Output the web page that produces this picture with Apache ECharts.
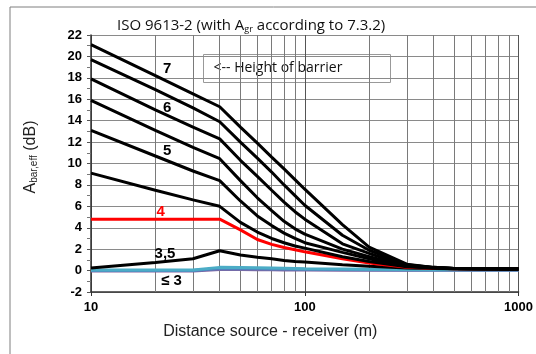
<!DOCTYPE html>
<html>
<head>
<meta charset="utf-8">
<script src="https://cdn.jsdelivr.net/npm/echarts@6/dist/echarts.min.js"></script>
<style>
  html, body { margin: 0; padding: 0; background: #fff; }
  #chart { width: 536px; height: 354px; }
</style>
</head>
<body>
<div id="chart"></div>
<script>
// distance source - receiver (m)
var distances = [10, 20, 30, 40, 50, 60, 70, 80, 90, 100, 150, 200, 300, 400, 500, 1000];

// A_bar,eff (dB) per barrier height
var h7  = [21.1, 18.2, 16.5, 15.3, 13.4, 11.9, 10.6, 9.5, 8.5, 7.6, 4.3, 2.2, 0.6, 0.3, 0.2, 0.15];
var h65 = [19.7, 16.9, 15.2, 13.9, 12.0, 10.5, 9.2, 8.0, 7.0, 6.1, 3.3, 1.9, 0.55, 0.3, 0.2, 0.15];
var h6  = [17.9, 15.0, 13.4, 12.3, 10.3, 8.8, 7.5, 6.4, 5.5, 4.8, 2.5, 1.6, 0.5, 0.28, 0.2, 0.15];
var h55 = [15.9, 13.1, 11.5, 10.45, 8.4, 6.8, 5.6, 4.6, 3.9, 3.4, 2.0, 1.3, 0.45, 0.26, 0.2, 0.15];
var h5  = [13.1, 10.7, 9.3, 8.4, 6.5, 5.1, 4.2, 3.5, 3.0, 2.6, 1.7, 1.1, 0.4, 0.25, 0.2, 0.15];
var h45 = [9.1, 7.5, 6.6, 6.0, 4.5, 3.6, 3.0, 2.6, 2.3, 2.1, 1.3, 0.85, 0.35, 0.23, 0.18, 0.15];
var h4  = [4.8, 4.8, 4.8, 4.8, 3.8, 2.9, 2.45, 2.15, 1.95, 1.75, 1.1, 0.7, 0.3, 0.22, 0.18, 0.15];
var h35 = [0.25, 0.75, 1.1, 1.85, 1.45, 1.25, 1.1, 0.95, 0.85, 0.8, 0.55, 0.4, 0.25, 0.2, 0.17, 0.15];
var h3  = [0.05, 0.05, 0.05, 0.3, 0.28, 0.26, 0.24, 0.22, 0.2, 0.18, 0.15, 0.12, 0.1, 0.08, 0.08, 0.07];
var h25 = [0.0, 0.0, 0.0, 0.2, 0.18, 0.16, 0.15, 0.14, 0.13, 0.12, 0.1, 0.08, 0.06, 0.05, 0.05, 0.05];
var h2  = [-0.05, -0.05, -0.05, 0.1, 0.09, 0.08, 0.07, 0.06, 0.06, 0.05, 0.04, 0.03, 0.02, 0.02, 0.02, 0.02];

// curve labels
var labelText = ['7', '6', '5', '4', '3,5', '≤ 3'];
var labelX    = [22.7, 22.7, 22.7, 21.2, 22.2, 23.8];
var labelY    = [18.8, 15.2, 11.2, 5.5, 1.6, -1.0];
var labelColor = ['#000', '#000', '#000', '#ff0000', '#000', '#000'];

// minor vertical grid lines of the log axis
var minorGridX = [20, 30, 40, 50, 60, 70, 80, 90, 200, 300, 400, 500, 600, 700, 800, 900];

var chart = echarts.init(document.getElementById('chart'));

function pairs(ys) {
    return distances.map(function (d, i) { return [d, ys[i]]; });
}

function curve(name, ys, color, width) {
    return {
        name: name,
        type: 'line',
        data: pairs(ys),
        symbol: 'none',
        lineStyle: { color: color, width: width },
        z: 3
    };
}

var series = [
    curve('2', h2, '#8064a2', 3),
    curve('2,5', h25, '#4f81bd', 3),
    curve('3', h3, '#4bacc6', 3),
    curve('3,5', h35, '#000', 3),
    curve('4', h4, '#ff0000', 3),
    curve('4,5', h45, '#000', 3),
    curve('5', h5, '#000', 3),
    curve('5,5', h55, '#000', 3),
    curve('6', h6, '#000', 3),
    curve('6,5', h65, '#000', 3),
    curve('7', h7, '#000', 3),
    {
        type: 'scatter',
        symbolSize: 0,
        silent: true,
        z: 5,
        itemStyle: { color: '#000', opacity: 1 },
        data: labelText.map(function (t, i) {
            return {
                value: [labelX[i], labelY[i]],
                label: {
                    show: true,
                    position: 'inside',
                    formatter: t,
                    color: labelColor[i],
                    textBorderWidth: 0,
                    fontFamily: 'Liberation Sans',
                    fontWeight: 'bold',
                    fontSize: 15
                }
            };
        }),
        markLine: {
            silent: true,
            symbol: 'none',
            label: { show: false },
            lineStyle: { color: '#7a7a7a', width: 1, type: 'solid' },
            z: 1,
            data: minorGridX.map(function (v) { return { xAxis: v }; })
        }
    }
];

var option = {
    animation: false,
    backgroundColor: '#fff',
    title: {
        text: 'ISO 9613-2 (with A{sub|gr} according to 7.3.2)',
        left: 112,
        top: 13,
        textStyle: {
            fontFamily: 'Open Sans',
            fontSize: 15,
            fontWeight: 'normal',
            color: '#111',
            rich: {
                sub: { fontSize: 9, padding: [7, 0, 0, 0], fontFamily: 'Open Sans', color: '#111' }
            }
        }
    },
    grid: { left: 91, right: 16, top: 35, bottom: 62 },
    xAxis: {
        type: 'log',
        logBase: 10,
        min: 10,
        max: 1000,
        name: 'Distance source - receiver (m)',
        nameLocation: 'middle',
        nameGap: 32,
        nameTextStyle: {
            fontFamily: 'Liberation Sans',
            fontSize: 16,
            color: '#222',
            padding: [0, 69, 0, 0]
        },
        axisLine: { onZero: false, lineStyle: { color: '#333', width: 1.5 } },
        axisTick: { show: true, inside: false, length: 4, lineStyle: { color: '#333' } },
        axisLabel: {
            fontFamily: 'Liberation Sans',
            fontWeight: 'bold',
            fontSize: 13,
            color: '#000',
            margin: 9,
            formatter: function (v) { return String(Math.round(v)); }
        },
        splitLine: { show: true, lineStyle: { color: '#555', width: 1 } }
    },
    yAxis: {
        type: 'value',
        min: -2,
        max: 22,
        interval: 2,
        axisLine: { show: true, onZero: false, lineStyle: { color: '#333', width: 1.5 } },
        axisTick: { show: true, inside: false, length: 4, lineStyle: { color: '#555' } },
        minorTick: { show: true, splitNumber: 2, length: 4, lineStyle: { color: '#777' } },
        axisLabel: {
            fontFamily: 'Liberation Sans',
            fontWeight: 'bold',
            fontSize: 13,
            color: '#000',
            margin: 9
        },
        splitLine: { show: true, lineStyle: { color: '#8a8a8a', width: 1 } }
    },
    graphic: [
        {
            type: 'rect',
            shape: { x: 10, y: 7, width: 600, height: 400 },
            style: { fill: 'none', stroke: '#7f7f7f', lineWidth: 1 },
            silent: true,
            z: -10
        },
        {
            type: 'group',
            left: 203,
            top: 54,
            z: 10,
            children: [
                {
                    type: 'rect',
                    shape: { x: 0, y: 0, width: 187, height: 28 },
                    style: { fill: '#fff', stroke: '#999', lineWidth: 1 }
                },
                {
                    type: 'text',
                    x: 10,
                    y: 14,
                    style: {
                        text: '<-- Height of barrier',
                        fontFamily: 'Open Sans',
                        fontSize: 14,
                        fill: '#111',
                        verticalAlign: 'middle'
                    }
                }
            ]
        },
        {
            type: 'text',
            x: 31,
            y: 157,
            rotation: Math.PI / 2,
            z: 10,
            style: {
                text: 'A{sub|bar,eff} (dB)',
                fontFamily: 'Liberation Sans',
                fontSize: 16,
                fill: '#222',
                align: 'center',
                verticalAlign: 'middle',
                rich: {
                    sub: { fontSize: 10, fontFamily: 'Liberation Sans', fill: '#222', padding: [7, 0, 0, 0] }
                }
            }
        }
    ],
    series: series
};

chart.setOption(option);
</script>
</body>
</html>
